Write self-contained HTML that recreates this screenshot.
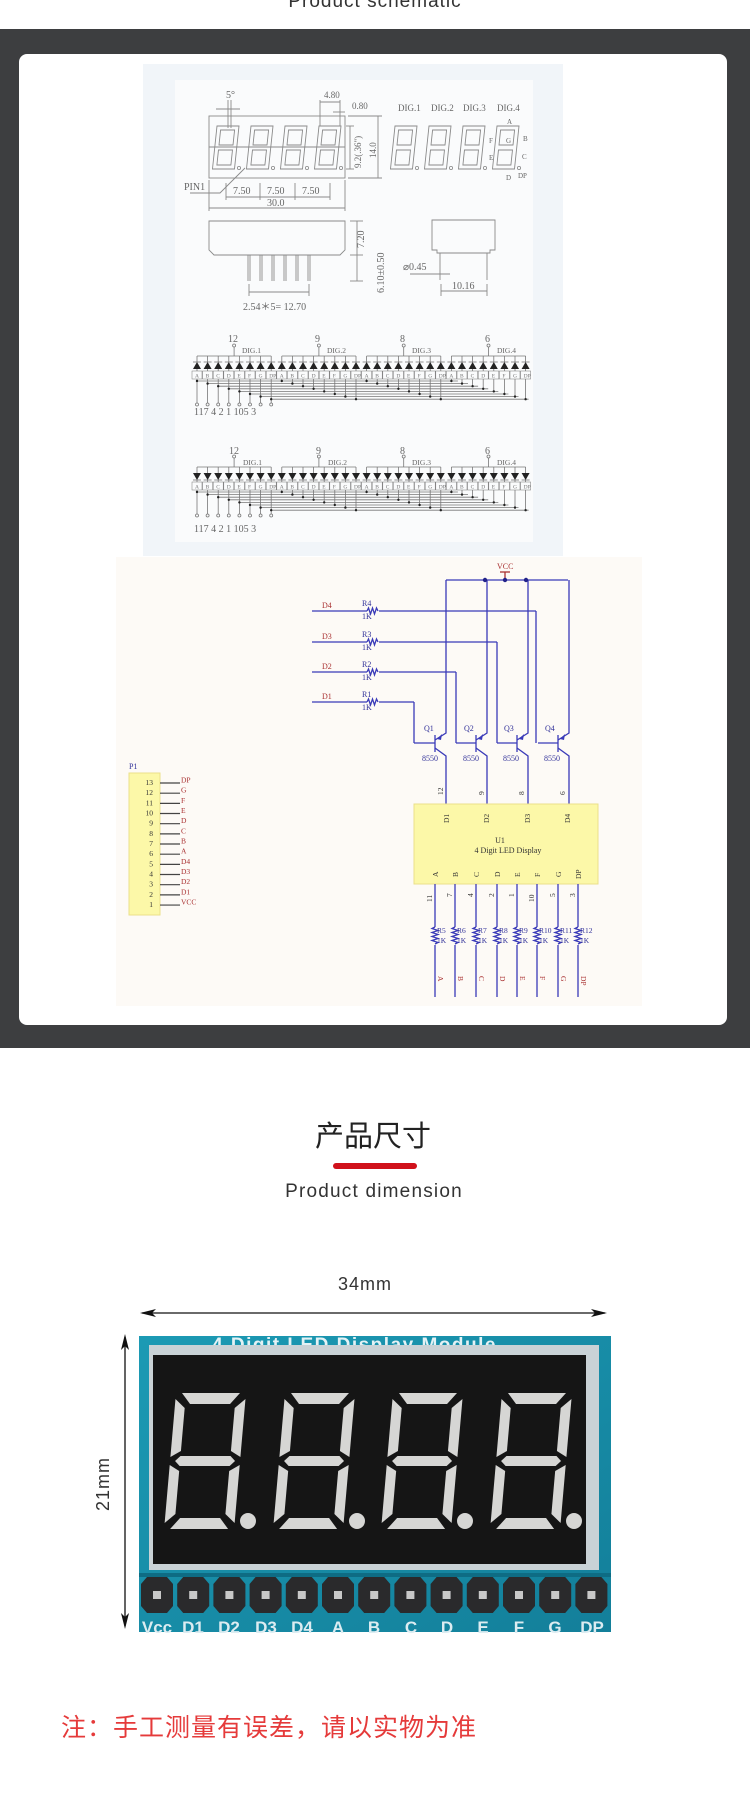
<!DOCTYPE html>
<html><head><meta charset="utf-8"><style>
html,body{margin:0;padding:0;background:#fff;width:750px;height:1816px;overflow:hidden}
svg{display:block}
.s{font-family:"Liberation Serif",serif}
</style></head><body>
<svg id="sv" width="750" height="1816" viewBox="0 0 750 1816" xmlns="http://www.w3.org/2000/svg">
<defs>
<symbol id="seg" viewBox="0 0 92 136" width="92" height="136" overflow="visible">
<g fill="#d6d6d4" transform="skewX(-5) translate(10,0)">
<polygon points="8,0 66,0 57,11 17,11"/>
<polygon points="8,136 66,136 57,125 17,125"/>
<polygon points="12,63 62,63 67,68 62,73 12,73 7,68"/>
<polygon points="2,6 12,15 12,58 2,64"/>
<polygon points="72,6 62,15 62,58 72,64"/>
<polygon points="2,72 12,78 12,121 2,130"/>
<polygon points="72,72 62,78 62,121 72,130"/>
</g>
<circle cx="84" cy="128" r="8" fill="#d6d6d4"/>
</symbol>
<symbol id="sd" width="30" height="46" overflow="visible">
<g fill="none" stroke="#8a8a8a" stroke-width="0.9" transform="skewX(-6) translate(5,0)">
<rect x="0" y="0" width="22" height="43"/>
<rect x="4" y="4" width="14" height="15"/>
<rect x="4" y="24" width="14" height="15"/>
</g>
<circle cx="27" cy="42" r="1.6" fill="none" stroke="#8a8a8a" stroke-width="0.8"/>
</symbol>
</defs>
<rect width="750" height="1816" fill="#fff"/>
<text x="375" y="7" font-family="Liberation Sans,sans-serif" font-size="19" fill="#333" text-anchor="middle" letter-spacing="1">Product schematic</text>
<rect x="0" y="29" width="750" height="1019" fill="#3d3e40"/>
<rect x="19" y="54" width="708" height="971" rx="8" fill="#fff"/>
<rect x="143" y="64" width="420" height="492" fill="#f1f5f9"/>
<rect x="175" y="80" width="358" height="462" fill="#fafbfc"/>
<rect x="116" y="557" width="526" height="449" fill="#fdfaf6"/>

<g id="top" class="s" fill="#666" font-size="9">
<g stroke="#8a8a8a" stroke-width="0.9" fill="none">
<rect x="209" y="116" width="136" height="62"/>
<line x1="209" y1="147" x2="345" y2="147"/>
<line x1="350" y1="126" x2="350" y2="169"/><line x1="346" y1="126" x2="354" y2="126"/><line x1="346" y1="169" x2="354" y2="169"/>
<line x1="378" y1="116" x2="378" y2="178"/><line x1="348" y1="116" x2="382" y2="116"/><line x1="348" y1="178" x2="382" y2="178"/>
<line x1="226" y1="197" x2="330" y2="197"/><line x1="226" y1="183" x2="226" y2="200"/><line x1="260" y1="183" x2="260" y2="200"/><line x1="295" y1="183" x2="295" y2="200"/><line x1="330" y1="183" x2="330" y2="200"/>
<line x1="209" y1="208" x2="345" y2="208"/><line x1="209" y1="180" x2="209" y2="211"/><line x1="345" y1="180" x2="345" y2="211"/>
<polyline points="190,193 220,193 245,168"/>
<line x1="228" y1="100" x2="228" y2="128"/><line x1="231" y1="100" x2="231" y2="128"/><line x1="216" y1="109" x2="240" y2="109"/>
<line x1="320" y1="102" x2="340" y2="102"/><line x1="320" y1="100" x2="320" y2="126"/><line x1="340" y1="100" x2="340" y2="126"/>
<line x1="333" y1="112" x2="345" y2="112"/>
<path d="M209 221 H345 V250 L340 255 H214 L209 250 Z"/>
<line x1="350" y1="221" x2="363" y2="221"/><line x1="357" y1="221" x2="357" y2="255"/><line x1="350" y1="255" x2="363" y2="255"/>
<line x1="357" y1="255" x2="357" y2="281"/><line x1="350" y1="281" x2="363" y2="281"/>
<line x1="249" y1="292" x2="309" y2="292"/><line x1="249" y1="284" x2="249" y2="296"/><line x1="309" y1="284" x2="309" y2="296"/>
<path d="M432 220 H495 V250 H490 V253 H437 V250 H432 Z"/>
<line x1="440" y1="253" x2="440" y2="280"/><line x1="487" y1="253" x2="487" y2="280"/>
<line x1="441" y1="291" x2="487" y2="291"/><line x1="441" y1="284" x2="441" y2="296"/><line x1="487" y1="284" x2="487" y2="296"/>
<line x1="410" y1="274" x2="450" y2="274"/>
</g>
<g id="pins" stroke="#8a8a8a" stroke-width="0.9"></g>
<use href="#sd" x="212" y="126"/><use href="#sd" x="246" y="126"/><use href="#sd" x="280" y="126"/><use href="#sd" x="314" y="126"/>
<use href="#sd" x="390" y="126"/><use href="#sd" x="424" y="126"/><use href="#sd" x="458" y="126"/><use href="#sd" x="492" y="126"/>
<text x="226" y="98" font-size="10">5°</text>
<text x="324" y="98">4.80</text>
<text x="352" y="109">0.80</text>
<text x="398" y="111">DIG.1</text><text x="431" y="111">DIG.2</text><text x="463" y="111">DIG.3</text><text x="497" y="111">DIG.4</text>
<text x="507" y="124" font-size="7">A</text><text x="489" y="143" font-size="7">F</text><text x="506" y="143" font-size="7">G</text><text x="523" y="141" font-size="7">B</text>
<text x="489" y="160" font-size="7">E</text><text x="522" y="159" font-size="7">C</text><text x="506" y="180" font-size="7">D</text><text x="518" y="178" font-size="7">DP</text>
<text transform="translate(361,168) rotate(-90)">9.2(.36")</text>
<text transform="translate(376,158) rotate(-90)">14.0</text>
<text x="184" y="190" font-size="10">PIN1</text>
<text x="233" y="194" font-size="10">7.50</text><text x="267" y="194" font-size="10">7.50</text><text x="302" y="194" font-size="10">7.50</text>
<text x="267" y="206" font-size="10">30.0</text>
<text transform="translate(364,248) rotate(-90)" font-size="10">7.20</text>
<text transform="translate(384,293) rotate(-90)" font-size="10">6.10±0.50</text>
<text x="403" y="270" font-size="10">⌀0.45</text>
<text x="452" y="289" font-size="10">10.16</text>
<text x="243" y="310" font-size="10">2.54＊5= 12.70</text>
<g id="circ"></g>
<text x="228" y="342" font-size="10">12</text><text x="315" y="342" font-size="10">9</text><text x="400" y="342" font-size="10">8</text><text x="485" y="342" font-size="10">6</text>
<text x="242" y="353" font-size="7.5">DIG.1</text><text x="327" y="353" font-size="7.5">DIG.2</text><text x="412" y="353" font-size="7.5">DIG.3</text><text x="497" y="353" font-size="7.5">DIG.4</text>
<text x="194" y="415" font-size="10">117 4 2 1 105 3</text>
<text x="229" y="454" font-size="10">12</text><text x="316" y="454" font-size="10">9</text><text x="400" y="454" font-size="10">8</text><text x="485" y="454" font-size="10">6</text>
<text x="243" y="465" font-size="7.5">DIG.1</text><text x="328" y="465" font-size="7.5">DIG.2</text><text x="412" y="465" font-size="7.5">DIG.3</text><text x="497" y="465" font-size="7.5">DIG.4</text>
<text x="194" y="532" font-size="10">117 4 2 1 105 3</text>
</g>

<g id="low" class="s" font-size="8">
<g stroke="#3a3ab8" stroke-width="1.3" fill="none">
<line x1="446" y1="580" x2="568" y2="580"/>
<line x1="505" y1="572" x2="505" y2="580" stroke="#a33"/><line x1="500" y1="572" x2="510" y2="572" stroke="#a33"/>
<line x1="312" y1="611" x2="367" y2="611"/><line x1="379" y1="611" x2="536" y2="611"/><line x1="536" y1="611" x2="536" y2="743"/>
<line x1="312" y1="642" x2="367" y2="642"/><line x1="379" y1="642" x2="497" y2="642"/><line x1="497" y1="642" x2="497" y2="743"/>
<line x1="312" y1="672" x2="367" y2="672"/><line x1="379" y1="672" x2="456" y2="672"/><line x1="456" y1="672" x2="456" y2="743"/>
<line x1="312" y1="702" x2="367" y2="702"/><line x1="379" y1="702" x2="414" y2="702"/><line x1="414" y1="702" x2="414" y2="743"/>
<path d="M367 611 l1.5 -3 l2 6 l2 -6 l2 6 l2 -6 l1.5 3"/>
<path d="M367 642 l1.5 -3 l2 6 l2 -6 l2 6 l2 -6 l1.5 3"/>
<path d="M367 672 l1.5 -3 l2 6 l2 -6 l2 6 l2 -6 l1.5 3"/>
<path d="M367 702 l1.5 -3 l2 6 l2 -6 l2 6 l2 -6 l1.5 3"/>
</g>
<g id="trs" stroke="#3a3ab8" stroke-width="1.3" fill="none"></g>
<circle cx="485" cy="580" r="2.2" fill="#22228a"/><circle cx="505" cy="580" r="2.2" fill="#22228a"/><circle cx="526" cy="580" r="2.2" fill="#22228a"/>
<text x="497" y="569" fill="#a33" font-size="8">VCC</text>
<g fill="#a33"><text x="322" y="608">D4</text><text x="322" y="639">D3</text><text x="322" y="669">D2</text><text x="322" y="699">D1</text></g>
<g fill="#33339a"><text x="362" y="606">R4</text><text x="362" y="619">1K</text><text x="362" y="637">R3</text><text x="362" y="650">1K</text>
<text x="362" y="667">R2</text><text x="362" y="680">1K</text><text x="362" y="697">R1</text><text x="362" y="710">1K</text>
<text x="424" y="731">Q1</text><text x="464" y="731">Q2</text><text x="504" y="731">Q3</text><text x="545" y="731">Q4</text>
<text x="422" y="761">8550</text><text x="463" y="761">8550</text><text x="503" y="761">8550</text><text x="544" y="761">8550</text></g>
<rect x="414" y="804" width="184" height="80" fill="#fcf8a8" stroke="#ebe08a"/>
<g fill="#333" font-size="7.5">
<text transform="translate(443,795) rotate(-90)">12</text><text transform="translate(484,795) rotate(-90)">9</text><text transform="translate(524,795) rotate(-90)">8</text><text transform="translate(565,795) rotate(-90)">6</text>
<text transform="translate(449,823) rotate(-90)">D1</text><text transform="translate(489,823) rotate(-90)">D2</text><text transform="translate(530,823) rotate(-90)">D3</text><text transform="translate(570,823) rotate(-90)">D4</text>
<text x="500" y="843" font-size="8" text-anchor="middle">U1</text>
<text x="508" y="853" font-size="8" text-anchor="middle">4 Digit LED Display</text>
<text transform="translate(438,877) rotate(-90)">A</text><text transform="translate(458,877) rotate(-90)">B</text><text transform="translate(479,877) rotate(-90)">C</text><text transform="translate(500,877) rotate(-90)">D</text>
<text transform="translate(520,877) rotate(-90)">E</text><text transform="translate(540,877) rotate(-90)">F</text><text transform="translate(561,877) rotate(-90)">G</text><text transform="translate(581,879) rotate(-90)">DP</text>
<text transform="translate(432,902) rotate(-90)">11</text><text transform="translate(452,897) rotate(-90)">7</text><text transform="translate(473,897) rotate(-90)">4</text><text transform="translate(494,897) rotate(-90)">2</text>
<text transform="translate(514,897) rotate(-90)">1</text><text transform="translate(534,902) rotate(-90)">10</text><text transform="translate(555,897) rotate(-90)">5</text><text transform="translate(575,897) rotate(-90)">3</text>
</g>
<g id="segl" stroke="#3a3ab8" stroke-width="1.3" fill="none"></g>
<g fill="#33339a" font-size="7.5">
<text x="437" y="933">R5</text><text x="457" y="933">R6</text><text x="478" y="933">R7</text><text x="499" y="933">R8</text><text x="519" y="933">R9</text><text x="539" y="933">R10</text><text x="560" y="933">R11</text><text x="580" y="933">R12</text>
<text x="437" y="943">1K</text><text x="457" y="943">1K</text><text x="478" y="943">1K</text><text x="499" y="943">1K</text><text x="519" y="943">1K</text><text x="539" y="943">1K</text><text x="560" y="943">1K</text><text x="580" y="943">1K</text>
</g>
<g fill="#a33" font-size="7.5">
<text transform="translate(438,976) rotate(90)">A</text><text transform="translate(458,976) rotate(90)">B</text><text transform="translate(479,976) rotate(90)">C</text><text transform="translate(500,976) rotate(90)">D</text>
<text transform="translate(520,976) rotate(90)">E</text><text transform="translate(540,976) rotate(90)">F</text><text transform="translate(561,976) rotate(90)">G</text><text transform="translate(581,976) rotate(90)">DP</text>
</g>
<text x="129" y="769" fill="#33339a">P1</text>
<rect x="129" y="773" width="31" height="142" fill="#fcf8a8" stroke="#ebe08a"/>
<g id="p1" font-size="7.5"></g>
</g>

<text x="373" y="1146" font-family="Liberation Sans,'Noto Sans CJK SC',sans-serif" font-size="29" fill="#222" text-anchor="middle">产品尺寸</text>
<rect x="333" y="1163" width="84" height="6" rx="3" fill="#d0111b"/>
<text x="374" y="1197" font-family="Liberation Sans,sans-serif" font-size="19" fill="#333" text-anchor="middle" letter-spacing="1.2">Product dimension</text>
<text x="365" y="1290" font-family="Liberation Sans,sans-serif" font-size="18" fill="#333" text-anchor="middle" letter-spacing="1">34mm</text>
<g stroke="#111" stroke-width="1.3"><line x1="142" y1="1313" x2="605" y2="1313"/><line x1="125" y1="1337" x2="125" y2="1626"/></g>
<polygon points="140,1313 156,1309 152,1313 156,1317" fill="#111"/><polygon points="607,1313 591,1309 595,1313 591,1317" fill="#111"/>
<polygon points="125,1334 121,1350 125,1346 129,1350" fill="#111"/><polygon points="125,1629 121,1613 125,1617 129,1613" fill="#111"/>
<text transform="translate(109,1484) rotate(-90)" font-family="Liberation Sans,sans-serif" font-size="18" fill="#333" text-anchor="middle" letter-spacing="1">21mm</text>

<defs><linearGradient id="pcb" x1="0" y1="0" x2="1" y2="1"><stop offset="0" stop-color="#1c9ab4"/><stop offset="1" stop-color="#137f9a"/></linearGradient></defs>
<rect x="139" y="1336" width="472" height="296" fill="url(#pcb)"/>
<text x="212" y="1351" font-family="Liberation Sans,sans-serif" font-weight="bold" font-size="19" fill="#e4f2f5" letter-spacing="1.5">4 Digit LED Display Module</text>
<rect x="149" y="1345" width="450" height="225" fill="#c9d2d6"/>
<rect x="153" y="1355" width="433" height="209" fill="#151515"/>
<use href="#seg" x="164" y="1393"/><use href="#seg" x="273" y="1393"/><use href="#seg" x="381" y="1393"/><use href="#seg" x="490" y="1393"/>
<rect x="139" y="1573" width="472" height="4" fill="#0e6c84"/>
<g id="hdr"></g>
<g font-family="Liberation Sans,sans-serif" font-weight="bold" font-size="17" fill="#dcecf1" text-anchor="middle">
<text x="157" y="1633">Vcc</text><text x="193" y="1633">D1</text><text x="229" y="1633">D2</text><text x="266" y="1633">D3</text><text x="302" y="1633">D4</text>
<text x="338" y="1633">A</text><text x="374" y="1633">B</text><text x="411" y="1633">C</text><text x="447" y="1633">D</text><text x="483" y="1633">E</text>
<text x="519" y="1633">F</text><text x="555" y="1633">G</text><text x="592" y="1633">DP</text></g>

<text x="61" y="1736" font-family="Liberation Sans,'Noto Sans CJK SC',sans-serif" font-size="25" fill="#e53a3a" letter-spacing="1">注：手工测量有误差，请以实物为准</text>
</svg>
<script>
var NS="http://www.w3.org/2000/svg";
function el(p,t,a,txt){var e=document.createElementNS(NS,t);for(var k in a)e.setAttribute(k,a[k]);if(txt!=null)e.textContent=txt;p.appendChild(e);return e;}
var pins=document.getElementById('pins');
for(var i=0;i<6;i++){var x=249+i*12;el(pins,'line',{x1:x-1,y1:255,x2:x-1,y2:281});el(pins,'line',{x1:x+1,y1:255,x2:x+1,y2:281});}
var c=document.getElementById('circ');
var L=['A','B','C','D','E','F','G','DP'];
function circuit(y0,down){
 var g=el(c,'g',{stroke:'#777','stroke-width':0.8,fill:'none'});
 for(var grp=0;grp<4;grp++){
  var x0=197+grp*8*10.6,x7=x0+7*10.6,cx=(x0+x7)/2;
  el(g,'line',{x1:x0,y1:y0,x2:x7,y2:y0});
  el(g,'line',{x1:cx,y1:y0,x2:cx,y2:y0-9});el(g,'circle',{cx:cx,cy:y0-10.5,r:1.5});
  for(var k=0;k<8;k++){var x=x0+k*10.6;el(g,'line',{x1:x,y1:y0,x2:x,y2:y0+6});
   var ty=y0+6;
   if(down)el(c,'polygon',{points:(x-4)+','+ty+' '+(x+4)+','+ty+' '+x+','+(ty+7),fill:'#222'});
   else el(c,'polygon',{points:(x-4)+','+(ty+7)+' '+(x+4)+','+(ty+7)+' '+x+','+ty,fill:'#222'});
   el(g,'line',{x1:x-4,y1:down?ty+7:ty,x2:x+4,y2:down?ty+7:ty});
   el(g,'line',{x1:x,y1:ty+7,x2:x,y2:ty+9});
   el(g,'rect',{x:x-5,y:ty+9,width:10,height:8,'stroke-width':0.5});
   el(c,'text',{x:x-2,y:ty+15.5,'font-size':5.5,fill:'#777'},L[k]);
   var by=y0+25+k*2.6;
   el(g,'line',{x1:x,y1:ty+17,x2:x,y2:by});
   el(c,'circle',{cx:x,cy:by,r:1.2,fill:'#222'});
  }
 }
 for(var k=0;k<8;k++){var by=y0+25+k*2.6,xa=197+k*10.6,xb=197+(24+k)*10.6;
  el(g,'line',{x1:xa,y1:by,x2:xb+3+ (7-k)*0.5,y2:by});
  el(g,'line',{x1:xa,y1:by,x2:xa,y2:y0+47});el(g,'circle',{cx:xa,cy:y0+48.5,r:1.5});}
}
circuit(356,false);circuit(467,true);
var t=document.getElementById('trs');
var bx=[435,476,517,558];
for(var i=0;i<4;i++){var b=bx[i],cx=b+11;
 el(t,'line',{x1:b,y1:735,x2:b,y2:752});
 el(t,'line',{x1:b-(i==0?21:20),y1:743,x2:b,y2:743});
 el(t,'polyline',{points:b+',740 '+cx+',733 '+cx+',580'});
 el(t,'polyline',{points:b+',748 '+cx+',756 '+cx+',804'});
 el(t,'polygon',{points:(b+2)+',739 '+(b+7)+',734 '+(b+6)+',740',fill:'#3a3ab8',stroke:'none'});
}
var s=document.getElementById('segl');var sx=[435,455,476,497,517,537,558,578];
for(var i=0;i<8;i++){var x=sx[i];el(s,'line',{x1:x,y1:884,x2:x,y2:927});el(s,'line',{x1:x,y1:945,x2:x,y2:997});
 el(s,'path',{d:'M'+x+' 927 l-3 1.5 l6 2 l-6 2 l6 2 l-6 2 l6 2 l-6 2 l6 2 l-3 1.5'});}
var p=document.getElementById('p1');var nm=['DP','G','F','E','D','C','B','A','D4','D3','D2','D1','VCC',''];
for(var k=0;k<13;k++){var y=783+k*10.17;
 el(p,'line',{x1:160,y1:y,x2:180,y2:y,stroke:'#444','stroke-width':1.2});
 el(p,'text',{x:153,y:y+2,'text-anchor':'end',fill:'#333'},String(13-k));
 if(nm[k])el(p,'text',{x:181,y:y-0.5,fill:'#a33'},nm[k]);}
var h=document.getElementById('hdr');
for(var k=0;k<13;k++){var x=157+k*36.2,y=1595;
 el(h,'polygon',{points:(x-10)+','+(y-18)+' '+(x+10)+','+(y-18)+' '+(x+16)+','+(y-11)+' '+(x+16)+','+(y+11)+' '+(x+10)+','+(y+18)+' '+(x-10)+','+(y+18)+' '+(x-16)+','+(y+11)+' '+(x-16)+','+(y-11),fill:'#2a2a2c'});
 el(h,'rect',{x:x-4,y:y-4,width:8,height:8,fill:'#c8c8c8'});}
</script>
</body></html>
